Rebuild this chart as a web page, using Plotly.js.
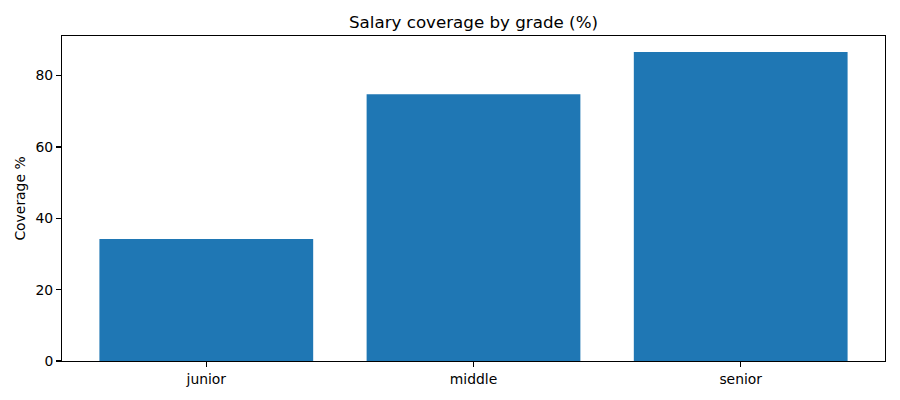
<!DOCTYPE html>
<html>
<head>
<meta charset="utf-8">
<script src="https://cdn.plot.ly/plotly-3.0.1.min.js"></script>
<style>
html,body{margin:0;padding:0;background:#fff;}
#chart{width:900px;height:400px;}
</style>
</head>
<body>
<div id="chart"></div>
<script>
const grades = ["junior", "middle", "senior"];
const coverage = [34.2, 74.8, 86.6];
const yTicks = [0, 20, 40, 60, 80];

const font = "DejaVu Sans, sans-serif";
const trace = {
  type: "bar",
  x: [0, 1, 2],
  y: coverage,
  width: 0.8,
  marker: {color: "#1f77b4", line: {width: 0}},
  hoverinfo: "none"
};
const layout = {
  width: 900, height: 400,
  margin: {l: 62, r: 15, t: 36, b: 39, pad: 0},
  paper_bgcolor: "#fff", plot_bgcolor: "#fff",
  showlegend: false,
  font: {family: font, size: 13.9, color: "#000"},
  title: {text: "Salary coverage by grade (%)", font: {family: font, size: 16.7, color: "#000"},
          xref: "paper", x: 0.5, xanchor: "center", yref: "container", y: 1 - 22/400, yanchor: "middle"},
  xaxis: {
    range: [-0.54, 2.54], tickmode: "array", tickvals: [0, 1, 2], ticktext: grades,
    showgrid: false, zeroline: false, showline: true, mirror: true, linecolor: "#000", linewidth: 1.1,
    ticks: "outside", ticklen: 4.9, tickwidth: 1.1, tickcolor: "#000",
    tickfont: {family: font, size: 13.9, color: "#000"}
  },
  yaxis: {
    range: [0, 91.1], tickmode: "array", tickvals: yTicks, ticktext: yTicks.map(String),
    showgrid: false, zeroline: false, showline: true, mirror: true, linecolor: "#000", linewidth: 1.1,
    ticks: "outside", ticklen: 4.9, tickwidth: 1.1, tickcolor: "#000",
    tickfont: {family: font, size: 13.9, color: "#000"},
    title: {text: "Coverage %", font: {family: font, size: 13.9, color: "#000"}, standoff: 6}
  }
};
Plotly.newPlot("chart", [trace], layout, {displayModeBar: false, staticPlot: true});
</script>
</body>
</html>
